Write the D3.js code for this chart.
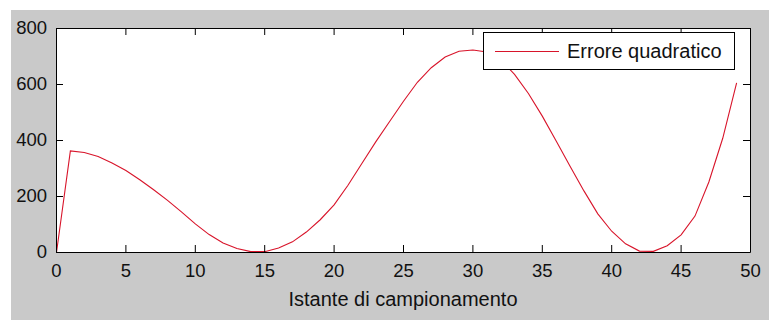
<!DOCTYPE html>
<html>
<head>
<meta charset="utf-8">
<script src="https://cdn.jsdelivr.net/npm/d3@7"></script>
<style>
  body { margin: 0; background: #fff; }
  svg { display: block; font-family: "Liberation Sans", Arial, sans-serif; }
</style>
</head>
<body>
<svg width="769" height="320"></svg>
<script>
// istanti di campionamento and squared error
var instants = [0,1,2,3,4,5,6,7,8,9,10,11,12,13,14,15,16,17,18,19,20,21,22,23,24,
                25,26,27,28,29,30,31,32,33,34,35,36,37,38,39,40,41,42,43,44,45,46,47,48,49];
var errore = [0,363,357,343,320,293,260,224,186,145,102,64,34,14,3,3,16,38,73,117,170,240,318,395,468,
              540,608,660,698,719,723,716,688,636,568,487,398,308,220,138,76,31,5,4,24,63,130,252,408,606];
var xTicks = [0,5,10,15,20,25,30,35,40,45,50];
var yTicks = [0,200,400,600,800];
var seriesName = "Errore quadratico";
var xLabel = "Istante di campionamento";

var svg = d3.select("svg");

// grey figure background
svg.append("rect")
    .attr("x", 11).attr("y", 10)
    .attr("width", 758).attr("height", 310)
    .attr("fill", "#c9c9c9");

var x = d3.scaleLinear().domain([0, 50]).range([56, 750]),
    y = d3.scaleLinear().domain([0, 800]).range([252, 28]);

// white plot area
svg.append("rect")
    .attr("x", 56.5).attr("y", 28.5)
    .attr("width", 694).attr("height", 224)
    .attr("fill", "#fff");

var line = d3.line()
    .x(function(d, i) { return x(instants[i]) + 0.5; })
    .y(function(d) { return y(d) + 0.5; });

svg.append("path")
    .datum(errore)
    .attr("fill", "none")
    .attr("stroke", "#d8142a")
    .attr("stroke-width", 1.1)
    .attr("d", line);

function styleAxis(g) {
  g.selectAll(".domain").attr("stroke", "#000");
  g.selectAll(".tick line").attr("stroke", "#000");
  g.selectAll(".tick text")
      .attr("fill", "#111")
      .style("font-size", "18.5px")
      .style("font-family", "'Liberation Sans', Arial, sans-serif");
}

svg.append("g")
    .attr("transform", "translate(0,252)")
    .call(d3.axisBottom(x).tickValues(xTicks).tickSizeInner(-7).tickSizeOuter(0).tickPadding(12))
    .call(styleAxis);

svg.append("g")
    .attr("transform", "translate(0,28)")
    .call(d3.axisTop(x).tickValues(xTicks).tickSizeInner(-7).tickSizeOuter(0).tickFormat(""))
    .call(styleAxis);

svg.append("g")
    .attr("transform", "translate(56,0)")
    .call(d3.axisLeft(y).tickValues(yTicks).tickSizeInner(-7).tickSizeOuter(0).tickPadding(9))
    .call(styleAxis);

svg.append("g")
    .attr("transform", "translate(750,0)")
    .call(d3.axisRight(y).tickValues(yTicks).tickSizeInner(-7).tickSizeOuter(0).tickFormat(""))
    .call(styleAxis);

svg.append("text")
    .attr("x", 403)
    .attr("y", 306)
    .attr("text-anchor", "middle")
    .attr("fill", "#111")
    .style("font-size", "20px")
    .text(xLabel);

// legend
var legend = svg.append("g");
legend.append("rect")
    .attr("x", 483.5).attr("y", 32.5)
    .attr("width", 251).attr("height", 37)
    .attr("fill", "#fff")
    .attr("stroke", "#000");
legend.append("line")
    .attr("x1", 495).attr("x2", 559)
    .attr("y1", 51.5).attr("y2", 51.5)
    .attr("stroke", "#d8142a")
    .attr("stroke-width", 1.1);
legend.append("text")
    .attr("x", 567)
    .attr("y", 58)
    .attr("fill", "#111")
    .style("font-size", "20px")
    .text(seriesName);
</script>
</body>
</html>
